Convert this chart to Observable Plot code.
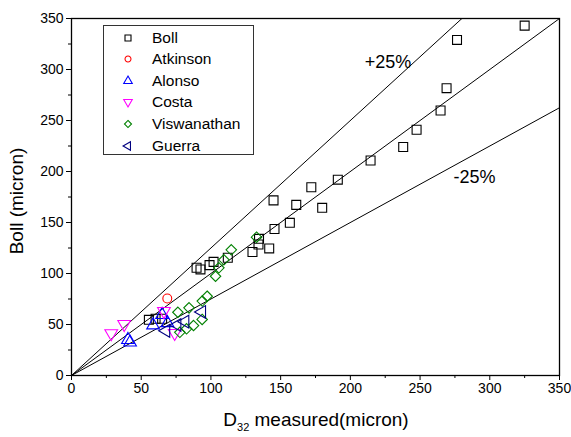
<!DOCTYPE html>
<html><head><meta charset="utf-8">
<script src="https://cdn.jsdelivr.net/npm/d3@7"></script>
<script src="https://cdn.jsdelivr.net/npm/@observablehq/plot@0.6"></script>
<style>
body{margin:0;background:#fff;font-family:"Liberation Sans",Arial,sans-serif;}
#wrap{position:relative;width:571px;height:437px;}
#legend{position:absolute;left:103px;top:25px;width:151px;height:130px;border:1px solid #333;background:#fff;box-sizing:border-box;}
.item{position:absolute;left:0;height:20px;display:flex;align-items:center;font-size:15.5px;color:#000;white-space:nowrap;}
.item svg{margin-left:17px;margin-right:17px;}
</style></head><body><div id="wrap"></div>
<script>
// ---------- data ----------
const seriesNames = ["Boll","Atkinson","Alonso","Costa","Viswanathan","Guerra"];
const seriesColors = ["#000000","#ff0000","#0000ff","#ff00ff","#008000","#000080"];

const bollX = [325, 276.5, 269, 264.7, 247.5, 237.9, 214.5, 191, 172, 179.8, 161.2, 144.9, 156.6, 145.6, 134.5, 134.1, 141.8, 129.8, 112.1, 101.9, 99, 89.7, 92.5, 55.5, 60.3, 65];
const bollY = [343, 329, 281.7, 259.8, 240.9, 224, 210.8, 192, 184.6, 164.4, 167.3, 171.7, 149.7, 143.6, 134, 128.4, 124.6, 121.1, 115.4, 111.4, 108.2, 105.6, 104, 54.6, 55.6, 55.6];

const atkinsonX = [68.7];
const atkinsonY = [75.5];

const alonsoX = [40.5, 42, 58.5, 65, 68.8];
const alonsoY = [35, 32.5, 49.3, 59.5, 51.5];

const costaX = [28.5, 37.8, 66.3, 74];
const costaY = [41.3, 50.3, 63, 41.5];

const viswanathanX = [132.7, 114.6, 109.3, 105.7, 103.3, 76.3, 84.3, 93.8, 97.3, 93.7, 87.5, 82.5, 77.7];
const viswanathanY = [135.6, 123.2, 113.4, 105.6, 97.3, 62, 66.3, 73, 77.7, 55, 49, 45.8, 42.3];

const guerraX = [67.8, 75.8, 81.5, 93.5];
const guerraY = [43.8, 49.5, 52.8, 62.3];

const xTicks = [0, 50, 100, 150, 200, 250, 300, 350];
const yTicks = [0, 50, 100, 150, 200, 250, 300, 350];
const minorTicks = [25, 75, 125, 175, 225, 275, 325];

const refSlopes = [1.25, 1, 0.75];
const refLabels = ["+25%", "-25%"];
const refLabelX = [227, 289];
const refLabelY = [307, 194];

// ---------- custom symbols ----------
function tri(angles) {
  return {
    draw(ctx, size) {
      const R = Math.sqrt(size / (3 * Math.sqrt(3) / 4));
      angles.forEach((a, i) => {
        const x = R * Math.cos(a), y = R * Math.sin(a);
        if (i === 0) ctx.moveTo(x, y); else ctx.lineTo(x, y);
      });
      ctx.closePath();
    }
  };
}
const d = Math.PI / 180;
const symUp = tri([-90 * d, 30 * d, 150 * d]);
const symDown = tri([90 * d, -30 * d, -150 * d]);
const symLeft = tri([180 * d, -60 * d, 60 * d]);
const seriesSymbols = [d3.symbolSquare, d3.symbolCircle, symUp, symDown, d3.symbolDiamond2, symLeft];
const seriesSizes = [80, 62, 70, 70, 70, 70];

const xs = [bollX, atkinsonX, alonsoX, costaX, viswanathanX, guerraX];
const ys = [bollY, atkinsonY, alonsoY, costaY, viswanathanY, guerraY];

const points = [];
seriesNames.forEach((s, i) => xs[i].forEach((x, j) => points.push({series: s, x, y: ys[i][j]})));

const refLines = [];
refSlopes.forEach((k, i) => { refLines.push({k: i, x: 0, y: 0}, {k: i, x: 350, y: 350 * k}); });

const labels = refLabels.map((t, i) => ({t, x: refLabelX[i], y: refLabelY[i]}));

const dotMarks = seriesNames.map((s, i) => Plot.dot(points.filter(p => p.series === s), {
  x: "x", y: "y", symbol: () => seriesSymbols[i], r: Math.sqrt(seriesSizes[i] / Math.PI),
  stroke: seriesColors[i], fill: "none", strokeWidth: 1.1
}));

const chart = Plot.plot({
  width: 571, height: 437,
  marginLeft: 71, marginRight: 12, marginTop: 18, marginBottom: 62,
  x: {domain: [0, 350]},
  y: {domain: [0, 350]},
  symbol: {type: "identity"},
  style: {fontFamily: "'Liberation Sans', Arial, sans-serif", color: "#000", background: "#fff"},
  marks: [
    Plot.line(refLines, {x: "x", y: "y", z: "k", stroke: "#000", strokeWidth: 1, clip: true}),
    ...dotMarks,
    Plot.text(labels, {x: "x", y: "y", text: "t", fontSize: 18, fill: "#000"}),
    Plot.axisX(xTicks, {tickSize: 5, tickPadding: 3, fontSize: 14, label: null}),
    Plot.axisX(minorTicks, {tickSize: 3, tickFormat: () => "", label: null}),
    Plot.axisY(yTicks, {tickSize: 5, tickPadding: 3, fontSize: 14, label: null}),
    Plot.axisY(minorTicks, {tickSize: 3, tickFormat: () => "", label: null}),
    Plot.frame({stroke: "#000", strokeWidth: 1.3})
  ]
});

const svg = d3.select(chart);
svg.append("text")
  .attr("transform", "translate(18,201) rotate(-90)")
  .attr("text-anchor", "middle").attr("dominant-baseline", "middle")
  .attr("font-size", 19).attr("fill", "#000")
  .text("Boll (micron)");
const xl = svg.append("text")
  .attr("x", 316).attr("y", 426)
  .attr("text-anchor", "middle")
  .attr("font-size", 19).attr("fill", "#000");
xl.append("tspan").text("D");
xl.append("tspan").attr("font-size", 11).attr("dy", 5).text("32");
xl.append("tspan").attr("dy", -5).text(" measured(micron)");

const wrap = document.getElementById("wrap");
wrap.appendChild(chart);

const legend = document.createElement("div");
legend.id = "legend";
seriesNames.forEach((s, i) => {
  const item = document.createElement("div");
  item.className = "item";
  item.style.top = (1.5 + i * 21.6) + "px";
  const sz = 14;
  const sym = d3.symbol(seriesSymbols[i], seriesSizes[i] * 0.45)();
  item.innerHTML = `<svg width="${sz}" height="${sz}"><path transform="translate(${sz/2},${sz/2})" d="${sym}" fill="none" stroke="${seriesColors[i]}" stroke-width="1.1"></path></svg><span>${s}</span>`;
  legend.appendChild(item);
});
wrap.appendChild(legend);
</script>
</body></html>
